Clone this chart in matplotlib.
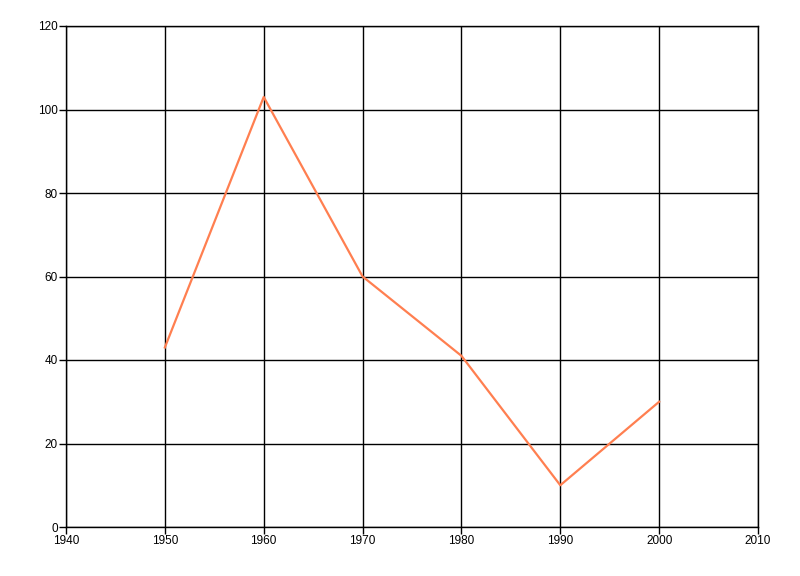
import matplotlib
matplotlib.use('Agg')
import matplotlib.pyplot as plt

# データ
years = [1950, 1960, 1970, 1980, 1990, 2000]
values = [43, 103, 60, 41, 10, 30]
x_ticks = [1940, 1950, 1960, 1970, 1980, 1990, 2000, 2010]
y_ticks = [0, 20, 40, 60, 80, 100, 120]

plt.rcParams['font.family'] = ['Liberation Sans', 'DejaVu Sans']

fig = plt.figure(figsize=(8, 5.76), dpi=100)
ax = fig.add_axes([66/800, 49/576, 692/800, 501/576])

ax.plot(years, values, color='#FF7F50', linewidth=1.6, zorder=3)

ax.set_xlim(1940, 2010)
ax.set_ylim(0, 120)
ax.set_xticks(x_ticks)
ax.set_yticks(y_ticks)
ax.grid(True, color='black', linewidth=1.0)
ax.tick_params(axis='both', direction='out', length=5, width=1, labelsize=8.5, colors='black', pad=1)
ax.tick_params(axis='x', length=5)
for s in ax.spines.values():
    s.set_linewidth(1.0)

fig.savefig('out.png', dpi=100)
